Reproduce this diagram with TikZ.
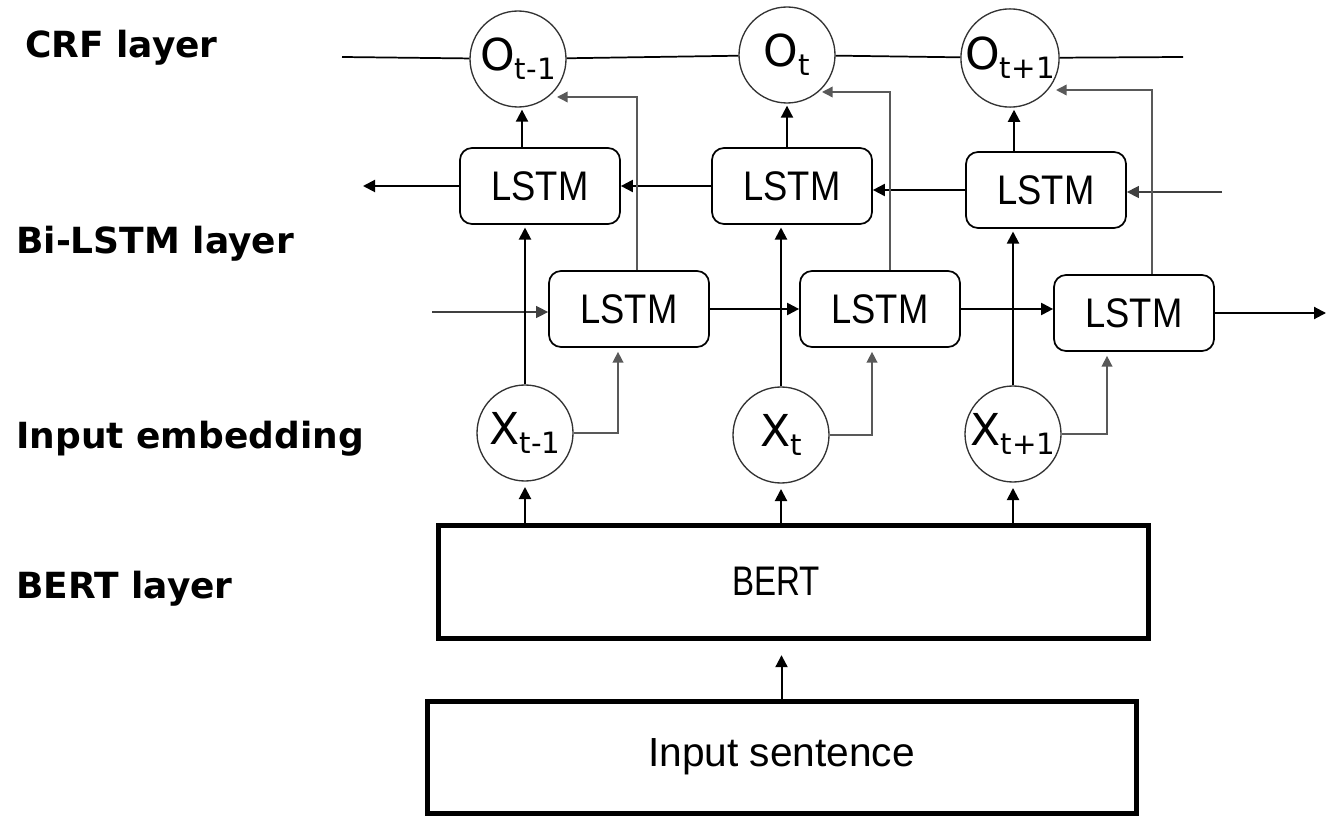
\documentclass[tikz,border=0pt]{standalone}
\usepackage{fontspec}
\setmainfont{Liberation Sans}
\newfontfamily\labfont{DejaVu Sans}
\newfontfamily\circfont{DejaVu Sans}
\newfontfamily\lstmfont[FakeStretch=0.88]{Liberation Sans}
\newfontfamily\bertfont[FakeStretch=0.8]{Liberation Sans}
\usetikzlibrary{arrows.meta,calc}
\newcommand{\circlab}[2]{{\fontsize{33}{33}\selectfont #1}\raisebox{-6.5pt}{\fontsize{22}{22}\selectfont #2}}
\begin{document}
\begin{tikzpicture}[x=0.75pt,y=-0.75pt,
  layer/.style={font=\labfont\bfseries\fontsize{27}{30}\selectfont, anchor=base west, inner sep=0},
  crfnode/.style={circle, draw=black!80, line width=1pt, minimum size=72pt, inner sep=0, font=\circfont},
  lstmbox/.style={draw, rounded corners=9pt, line width=1.3pt, minimum width=120pt, minimum height=57pt, inner sep=0, font=\lstmfont\fontsize{31}{31}\selectfont},
  bigbox/.style={draw, line width=3.75pt, inner sep=0},
  arr/.style={line width=1.5pt, -{Triangle[length=9pt,width=9pt]}},
  tarr/.style={line width=1pt, draw=black!75, -{Triangle[length=9pt,width=9pt]}},
  garr/.style={line width=1.1pt, draw=black!65, -{Triangle[length=8pt,width=8pt]}},
  ln/.style={line width=1.3pt}
]
\useasboundingbox (0,0) rectangle (1326,816);

% layer labels
\node[layer] (lcrf) at (25,58) {CRF layer};
\node[layer] (lbi) at (16,254) {Bi-LSTM layer};
\node[layer] (lin) at (16,448) {Input embedding};
\node[layer] (lbert) at (16,598) {BERT layer};

% CRF nodes
\node[crfnode] (O1) at (518,59) {\circlab{O}{t-1}};
\node[crfnode] (O2) at (787,55) {\circlab{O}{t}};
\node[crfnode] (O3) at (1010,58) {\circlab{O}{t+1}};

% LSTM boxes
\node[lstmbox] (B1) at (540,186) {LSTM};
\node[lstmbox] (B2) at (792,186) {LSTM};
\node[lstmbox] (B3) at (1046,190) {LSTM};
\node[lstmbox] (F1) at (629,309) {LSTM};
\node[lstmbox] (F2) at (880,309) {LSTM};
\node[lstmbox] (F3) at (1134,313) {LSTM};

% embeddings
\node[crfnode] (X1) at (525,433) {\circlab{X}{t-1}};
\node[crfnode] (X2) at (781,435) {\circlab{X}{t}};
\node[crfnode] (X3) at (1013,434) {\circlab{X}{t+1}};

% BERT and input
\node[bigbox, minimum width=532.5pt, minimum height=84.75pt, font=\bertfont\fontsize{31}{31}\selectfont] (BERT) at (793,581.5) {\hspace*{-25pt}BERT};
\node[bigbox, minimum width=531.75pt, minimum height=84pt, font=\fontsize{30.5}{30.5}\selectfont] (INP) at (781.5,757) {Input sentence};

% CRF chain
\coordinate (crfL) at (342,57);
\coordinate (crfR) at (1183,57);
\draw[ln] (crfL) -- (O1);
\draw[ln] (O1) -- (O2);
\draw[ln] (O2) -- (O3);
\draw[ln] (O3) -- (crfR);

% backward row
\coordinate (bin) at (1222,192);
\coordinate (bout) at (363,186);
\draw[tarr] (bin) -- (bin -| B3.east);
\draw[arr] (B3.west) -- (B3.west -| B2.east);
\draw[arr] (B2.west) -- (B1.east);
\draw[arr] (B1.west) -- (B1.west -| bout);

% forward row
\coordinate (fin) at (432,312);
\coordinate (fout) at (1326,313);
\draw[tarr] (fin) -- (fin -| F1.west);
\draw[arr] (F1.east) -- (F2.west);
\draw[arr] (F2.east) -- (F2.east -| F3.west);
\draw[arr] (F3.east) -- (fout);

% embeddings up to backward LSTM
\draw[arr, shorten >=2pt] (X1.north) -- (X1.north |- B1.south);
\draw[arr, shorten >=2pt] (X2.north) -- (X2.north |- B2.south);
\draw[arr, shorten >=2pt] (X3.north) -- (X3.north |- B3.south);

% embeddings to forward LSTM
\draw[garr, shorten >=3pt] (X1.east) -| ([xshift=-8.25pt]F1.south);
\draw[garr, shorten >=3pt] (X2.east) -| ([xshift=-6pt]F2.south);
\draw[garr, shorten >=3pt] (X3.east) -| ([xshift=-20.25pt]F3.south);

% backward LSTM up to CRF
\draw[arr, shorten >=1.5pt] ([xshift=3pt]O1 |- B1.north) -- ([xshift=3pt]O1.south);
\draw[arr, shorten >=1.5pt] (O2 |- B2.north) -- (O2.south);
\draw[arr, shorten >=1.5pt] ([xshift=3pt]O3 |- B3.north) -- ([xshift=3pt]O3.south);

% forward LSTM up to CRF
\coordinate (o1in) at (557,97);
\coordinate (o2in) at (822,92);
\coordinate (o3in) at (1056,90);
\draw[garr] ([xshift=6pt]F1.north) |- (o1in);
\draw[garr] ([xshift=7.5pt]F2.north) |- (o2in);
\draw[garr] ([xshift=13.5pt]F3.north) |- (o3in);

% BERT to embeddings
\draw[arr, shorten >=4pt] (X1 |- BERT.north) -- (X1.south);
\draw[arr, shorten >=4pt] (X2 |- BERT.north) -- (X2.south);
\draw[arr, shorten >=4pt] (X3 |- BERT.north) -- (X3.south);

% input to BERT
\draw[arr, shorten >=11pt] (INP.north) -- (INP.north |- BERT.south);
\end{tikzpicture}
\end{document}
